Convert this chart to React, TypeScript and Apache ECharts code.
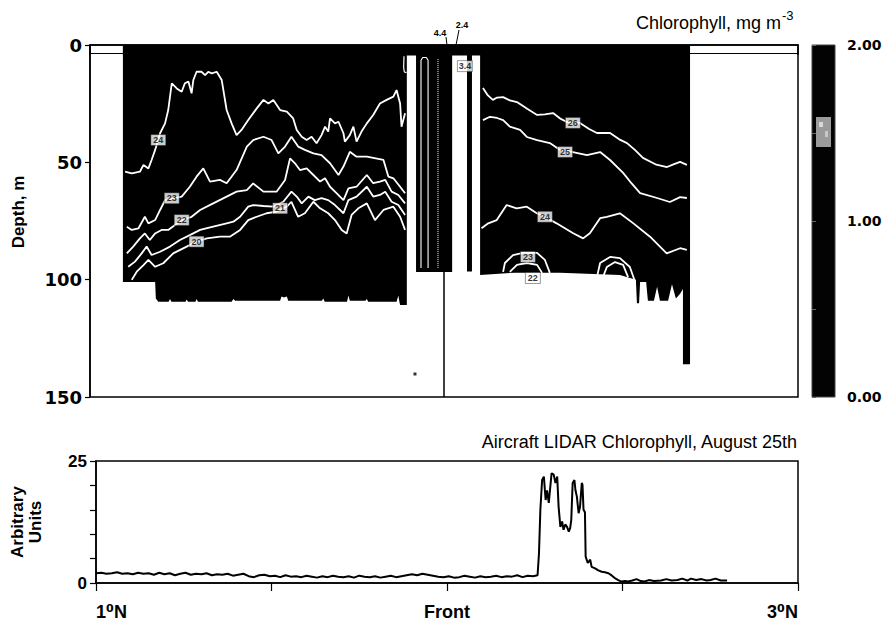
import React, { useEffect, useRef } from 'react';
import * as echarts from 'echarts';

// ---------- axes ----------
const depthRange = [0, 150];
const depthInterval = 50;
const latRange = [1, 3];
const latInterval = 0.5;
const latLabels: Record<string, string> = { '1': '1\u2070N', '2': 'Front', '3': '3\u2070N' };
const chlRange = [0, 2];
const chlInterval = 0.5;
const lidarRange = [0, 25];
const lidarInterval = 5;
const frontLat = 2.0;
const surfaceLineDepth = 3.5;

// ---------- black (saturated chlorophyll) sections: [lat, bottom depth m] ----------
const surfaceStrip = [[1.093, 4.5], [2.695, 4.5]];
const leftSection = [
  [1.093, 101], [1.184, 101], [1.186, 108], [1.193, 109.4], [1.222, 109.4], [1.226, 108.2], [1.230, 109.4],
  [1.270, 109.4], [1.273, 108.4], [1.277, 109.4], [1.298, 109.4], [1.301, 108.2], [1.305, 109.4], [1.400, 109.4],
  [1.405, 108.2], [1.410, 109], [1.537, 109], [1.541, 107.2], [1.548, 107.6], [1.556, 107.2], [1.560, 109],
  [1.655, 109], [1.659, 108.0], [1.663, 109.4], [1.726, 109.4], [1.730, 106.8], [1.734, 109], [1.778, 109],
  [1.782, 108.2], [1.786, 109.4], [1.866, 109.4], [1.871, 106.8], [1.874, 109.4], [1.876, 110.8], [1.895, 110.8],
];
const frontStrip = [[1.921, 96.7], [2.023, 96.7]];
const thinColumn = [[2.065, 96.5], [2.079, 96.5]];
const rightSection = [
  [2.102, 98], [2.20, 97], [2.328, 97], [2.497, 98], [2.542, 100], [2.545, 110], [2.551, 110], [2.554, 101],
  [2.571, 101], [2.576, 109], [2.593, 109], [2.602, 103], [2.610, 109], [2.633, 109], [2.644, 102],
  [2.655, 108], [2.667, 106], [2.675, 104], [2.675, 136], [2.695, 136],
];
const isolatedSample = [[1.918, 140.2]];

// ---------- temperature contours (white): [lat, depth m] ----------
const c24West = [[1.099,54.0],[1.118,54.7],[1.141,54.0],[1.151,51.1],[1.165,52.6],[1.174,49.0],[1.184,44.7],[1.198,37.6],[1.212,33.4],[1.221,27.7],[1.231,16.3],[1.245,18.5],[1.259,19.9],[1.268,16.3],[1.278,15.6],[1.287,20.6],[1.292,14.9],[1.301,11.4],[1.315,11.4],[1.325,12.8],[1.334,11.4],[1.344,12.1],[1.358,11.4],[1.372,14.9],[1.386,27.7],[1.400,33.4],[1.414,38.4],[1.428,36.2],[1.447,32.0],[1.471,27.0],[1.490,23.4],[1.504,24.9],[1.518,23.4],[1.537,27.7],[1.556,28.4],[1.574,31.3],[1.584,36.2],[1.598,39.1],[1.612,40.5],[1.626,39.1],[1.640,41.9],[1.654,38.4],[1.664,34.8],[1.673,36.9],[1.678,31.3],[1.692,33.4],[1.702,32.7],[1.716,37.6],[1.720,41.2],[1.734,38.4],[1.744,34.8],[1.753,41.2],[1.767,36.9],[1.782,33.4],[1.800,29.8],[1.819,24.9],[1.838,23.4],[1.857,22.0],[1.866,19.2],[1.876,24.9],[1.880,34.8],[1.890,29.1]];
const c23West = [[1.104,77.4],[1.118,78.8],[1.137,78.1],[1.155,73.2],[1.165,76.0],[1.184,74.6],[1.198,70.3],[1.212,66.1],[1.259,64.6],[1.282,60.4],[1.301,56.1],[1.320,52.6],[1.339,58.2],[1.367,57.5],[1.386,58.9],[1.414,53.3],[1.443,43.3],[1.461,40.5],[1.490,39.1],[1.513,40.5],[1.532,46.2],[1.551,43.3],[1.569,39.1],[1.588,43.3],[1.607,44.7],[1.631,46.2],[1.654,46.9],[1.678,50.4],[1.702,55.4],[1.716,51.8],[1.734,45.5],[1.753,47.6],[1.782,47.6],[1.829,49.0],[1.843,56.1],[1.857,56.8],[1.876,60.4],[1.890,63.2]];
const c22West = [[1.104,88.8],[1.122,85.9],[1.141,82.4],[1.155,80.3],[1.169,83.1],[1.184,80.3],[1.202,78.8],[1.221,78.8],[1.259,74.6],[1.287,73.2],[1.311,70.3],[1.348,67.5],[1.386,64.6],[1.414,62.5],[1.443,61.8],[1.461,59.0],[1.490,62.5],[1.527,62.5],[1.551,57.5],[1.565,48.3],[1.579,50.4],[1.593,53.3],[1.612,52.6],[1.631,55.4],[1.650,58.2],[1.664,56.8],[1.678,60.4],[1.697,63.2],[1.716,66.1],[1.730,61.1],[1.753,60.4],[1.782,55.4],[1.800,58.9],[1.819,58.2],[1.834,57.5],[1.852,62.5],[1.871,63.9],[1.890,67.5]];
const c21West = [[1.108,94.5],[1.127,92.3],[1.146,88.8],[1.160,85.9],[1.174,89.5],[1.198,88.1],[1.226,85.9],[1.254,83.1],[1.282,81.0],[1.311,78.8],[1.348,77.4],[1.386,76.0],[1.405,75.3],[1.424,73.2],[1.447,68.9],[1.461,68.2],[1.490,68.6],[1.518,68.9],[1.546,66.8],[1.569,62.5],[1.584,64.6],[1.598,67.5],[1.617,64.6],[1.635,66.1],[1.654,65.3],[1.673,66.1],[1.692,68.2],[1.716,71.7],[1.730,66.1],[1.753,64.6],[1.782,60.4],[1.800,64.6],[1.819,63.9],[1.834,62.5],[1.852,66.8],[1.871,68.2],[1.890,72.4]];
const c20West = [[1.118,100.1],[1.132,96.6],[1.151,93.8],[1.165,91.6],[1.184,94.5],[1.207,93.0],[1.235,88.8],[1.273,85.9],[1.301,83.8],[1.330,82.4],[1.367,81.7],[1.395,81.7],[1.424,78.8],[1.447,74.6],[1.471,73.2],[1.499,71.7],[1.527,71.0],[1.556,68.9],[1.569,66.8],[1.588,73.2],[1.607,71.7],[1.631,66.8],[1.650,69.6],[1.673,71.7],[1.692,74.6],[1.711,78.8],[1.725,80.3],[1.739,72.4],[1.758,69.6],[1.782,67.5],[1.805,74.6],[1.829,70.3],[1.857,68.9],[1.876,73.2],[1.890,78.8]];
const cWestEdge = [[1.887,4.8],[1.886,9.5],[1.888,11.5],[1.894,11.8]];
const cFrontA = [[1.935,95],[1.935,6.5],[1.940,5.3],[1.950,5.3],[1.955,6.5],[1.955,95]];
const cFrontB = [[1.983,6],[1.983,95]];
const c26East = [[2.110,18.3],[2.124,21.5],[2.138,23.4],[2.150,22.4],[2.167,22.2],[2.186,23.6],[2.206,24.3],[2.235,27.2],[2.263,29.8],[2.285,29.6],[2.308,29.0],[2.330,31.5],[2.347,32.8],[2.384,33.2],[2.410,35.8],[2.432,37.5],[2.469,37.5],[2.495,40.2],[2.517,41.8],[2.540,44.8],[2.562,48.1],[2.600,51.0],[2.630,52.0],[2.650,50.8],[2.667,49.8],[2.686,51.1]];
const c25East = [[2.110,32.0],[2.130,30.6],[2.150,31.1],[2.167,32.0],[2.186,34.8],[2.215,36.2],[2.234,39.2],[2.263,40.5],[2.299,41.8],[2.328,44.7],[2.364,45.6],[2.404,46.9],[2.441,45.6],[2.469,49.0],[2.506,54.5],[2.530,59.0],[2.554,63.1],[2.602,65.2],[2.638,66.9],[2.667,64.8],[2.686,65.2]];
const c24East = [[2.106,78.1],[2.125,76.0],[2.149,74.6],[2.177,68.2],[2.205,69.6],[2.234,68.9],[2.262,71.7],[2.285,73.2],[2.318,76.0],[2.365,80.2],[2.393,82.4],[2.412,80.2],[2.441,73.8],[2.460,73.2],[2.497,71.7],[2.535,76.0],[2.582,81.7],[2.629,88.8],[2.667,86.6],[2.686,87.3]];
const c23EastA = [[2.167,96.7],[2.172,92.9],[2.195,89.5],[2.223,88.6],[2.263,88.6],[2.285,91.6],[2.299,97.1]];
const c22EastA = [[2.186,96.7],[2.206,93.7],[2.234,92.9],[2.263,93.7],[2.277,97.1]];
const c23EastB = [[2.432,98.9],[2.441,92.9],[2.469,90.3],[2.497,90.8],[2.525,94.6],[2.540,101.0]];
const c22EastB = [[2.449,98.9],[2.460,94.6],[2.483,92.5],[2.506,93.7],[2.520,98.9]];
const contourLabels = [
  { name: '24', value: [1.193, 40.5] }, { name: '23', value: [1.231, 65.3] }, { name: '22', value: [1.259, 74.6] },
  { name: '21', value: [1.537, 69.6] }, { name: '20', value: [1.301, 83.8] }, { name: '26', value: [2.364, 33.2] },
  { name: '25', value: [2.342, 45.6] }, { name: '24', value: [2.285, 73.2] }, { name: '23', value: [2.237, 90.3] },
  { name: '22', value: [2.251, 99.3] }, { name: '3.4', value: [2.059, 9.0] },
];

// ---------- aircraft LIDAR chlorophyll (arbitrary units): [lat, value] ----------
const lidarSignal = [
  [1.000,2.0],[1.015,2.1],[1.030,1.9],[1.045,2.0],[1.060,2.2],[1.075,1.9],[1.090,2.0],[1.105,1.8],[1.120,2.1],[1.135,1.9],
  [1.150,2.0],[1.165,1.7],[1.180,2.1],[1.195,1.8],[1.210,2.0],[1.225,1.6],[1.240,1.9],[1.255,2.1],[1.270,1.7],[1.285,1.9],
  [1.300,1.8],[1.315,2.0],[1.330,1.6],[1.345,1.8],[1.360,1.7],[1.375,1.9],[1.390,1.5],[1.405,1.7],[1.420,1.9],[1.435,1.4],
  [1.450,1.2],[1.465,1.6],[1.480,1.7],[1.495,1.4],[1.510,1.5],[1.525,1.2],[1.540,1.6],[1.555,1.3],[1.570,1.4],[1.585,1.2],
  [1.600,1.5],[1.615,1.3],[1.630,1.1],[1.645,1.4],[1.660,1.2],[1.675,1.5],[1.690,1.3],[1.705,1.2],[1.720,1.4],[1.735,1.1],
  [1.750,1.5],[1.765,1.3],[1.780,1.2],[1.795,1.4],[1.810,1.1],[1.825,1.3],[1.840,1.5],[1.855,1.2],[1.870,1.4],[1.885,1.6],
  [1.900,1.8],[1.915,1.6],[1.930,1.9],[1.945,1.7],[1.960,1.5],[1.975,1.3],[1.990,1.2],[2.005,1.4],[2.020,1.1],[2.035,1.2],
  [2.050,1.5],[2.065,1.3],[2.080,1.1],[2.095,1.4],[2.110,1.2],[2.125,1.3],[2.140,1.5],[2.155,1.2],[2.170,1.4],[2.185,1.3],
  [2.200,1.6],[2.215,1.2],[2.230,1.5],[2.245,1.4],[2.258,1.6],
  [2.262,6.0],[2.266,15.0],[2.271,21.1],[2.276,21.8],[2.281,17.0],[2.285,19.0],[2.290,16.4],[2.294,19.5],[2.298,22.5],
  [2.304,22.2],[2.309,20.5],[2.314,21.8],[2.318,15.6],[2.323,11.5],[2.328,12.6],[2.332,10.9],[2.337,12.0],[2.342,11.5],
  [2.347,10.5],[2.351,11.3],[2.354,12.9],[2.358,20.5],[2.363,21.1],[2.366,19.0],[2.370,17.7],[2.375,14.3],[2.379,15.6],
  [2.384,20.5],[2.386,20.1],[2.389,15.0],[2.393,14.5],[2.395,5.4],[2.401,4.1],[2.408,4.8],[2.412,3.3],[2.422,3.0],
  [2.431,2.6],[2.441,2.3],[2.450,2.2],[2.460,2.0],[2.470,1.5],[2.478,1.0],[2.488,0.6],[2.497,0.3],[2.507,0.4],[2.516,0.3],
  [2.528,0.5],[2.540,0.8],[2.552,0.4],[2.563,0.3],[2.575,0.6],[2.590,0.4],[2.610,0.5],[2.625,0.8],[2.640,0.5],[2.657,0.6],
  [2.670,0.9],[2.685,0.5],[2.695,0.9],[2.710,0.6],[2.725,0.8],[2.740,0.5],[2.751,0.6],[2.765,0.9],[2.780,0.5],[2.798,0.5],
];

const SANS = '"Liberation Sans", Arial, "DejaVu Sans", sans-serif';
const WIDE = '"DejaVu Sans", sans-serif';

export default function App() {
  const ref = useRef<HTMLDivElement>(null);
  useEffect(() => {
    const chart = echarts.init(ref.current!, null, { renderer: 'svg' });

    const fill = (data: number[][], extra: any = {}) => ({
      type: 'line', xAxisIndex: 0, yAxisIndex: 0, data, symbol: 'none', silent: true, z: 2,
      lineStyle: { width: 0, color: '#000' },
      areaStyle: { color: '#000', opacity: 1, origin: 'start' },
      ...extra,
    });
    const contour = (data: number[][], type: string = 'solid', width = 1.8) => ({
      type: 'line', xAxisIndex: 0, yAxisIndex: 0, data, symbol: 'none', silent: true, z: 3,
      lineStyle: { color: '#fff', width, type },
    });

    const option: any = {
      animation: false,
      backgroundColor: '#fff',
      grid: [
        { left: 90, top: 45, width: 708, height: 352, show: true, borderColor: '#000', borderWidth: 1.5, backgroundColor: 'transparent' },
        { left: 812, top: 45, width: 23, height: 352, show: true, borderColor: '#444', borderWidth: 1, backgroundColor: '#030303' },
        { left: 90, top: 461, width: 708, height: 122, show: true, borderColor: '#000', borderWidth: 1.5, backgroundColor: 'transparent' },
      ],
      xAxis: [
        {
          gridIndex: 0, type: 'value', min: latRange[0], max: latRange[1], interval: latInterval,
          axisLine: { show: true, lineStyle: { color: '#000', width: 1.5 } },
          axisTick: { show: true, length: 10, inside: false, lineStyle: { color: '#000', width: 1.5 } },
          axisLabel: { show: false }, splitLine: { show: false },
        },
        { gridIndex: 1, type: 'value', min: 0, max: 1, show: false },
        {
          gridIndex: 2, type: 'value', min: latRange[0], max: latRange[1], interval: latInterval,
          axisLine: { show: true, lineStyle: { color: '#000', width: 1.5 } },
          axisTick: { show: true, length: 8, lineStyle: { color: '#000', width: 1.2 } },
          splitLine: { show: false },
          axisLabel: {
            formatter: (v: number) => latLabels[String(v)] ?? '',
            fontFamily: SANS, fontWeight: 'bold', fontSize: 18, color: '#000', margin: 20,
            alignMinLabel: 'left', alignMaxLabel: 'right', showMinLabel: true, showMaxLabel: true,
          },
        },
      ],
      yAxis: [
        {
          gridIndex: 0, type: 'value', inverse: true, min: depthRange[0], max: depthRange[1], interval: depthInterval,
          axisLine: { show: true, lineStyle: { color: '#000', width: 1.5 } },
          axisTick: { show: true, length: 5, lineStyle: { color: '#000', width: 1.2 } },
          axisLabel: { fontFamily: WIDE, fontWeight: 'bold', fontSize: 18, color: '#000', margin: 8 },
          splitLine: { show: false },
        },
        {
          gridIndex: 1, type: 'value', position: 'right', min: chlRange[0], max: chlRange[1], interval: chlInterval,
          axisLine: { show: false },
          axisTick: { show: true, length: 4, lineStyle: { color: '#666', width: 1 } },
          axisLabel: {
            formatter: (v: number) => (Math.abs(v % 1) < 1e-9 ? v.toFixed(2) : ''),
            fontFamily: WIDE, fontWeight: 'bold', fontSize: 14, color: '#000', margin: 12,
          },
          splitLine: { show: false },
        },
        {
          gridIndex: 2, type: 'value', min: lidarRange[0], max: lidarRange[1], interval: lidarInterval,
          axisLine: { show: true, lineStyle: { color: '#000', width: 1.5 } },
          axisTick: { show: true, length: 6, lineStyle: { color: '#000', width: 1.2 } },
          axisLabel: {
            formatter: (v: number) => (v === lidarRange[0] || v === lidarRange[1] ? String(v) : ''),
            fontFamily: SANS, fontWeight: 'bold', fontSize: 17, color: '#000', margin: 9,
          },
          splitLine: { show: false },
          name: 'Arbitrary\nUnits', nameLocation: 'middle', nameRotate: 90, nameGap: 52,
          nameTextStyle: { fontFamily: SANS, fontWeight: 'bold', fontSize: 17, color: '#000', lineHeight: 18 },
        },
      ],
      series: [
        fill(surfaceStrip, {
          markLine: {
            silent: true, symbol: ['none', 'none'], label: { show: false },
            lineStyle: { color: '#000', width: 1.2, type: 'solid' },
            data: [{ yAxis: surfaceLineDepth }],
          },
        }),
        fill(leftSection),
        fill(frontStrip, {
          markLine: {
            silent: true, symbol: ['none', 'none'], label: { show: false },
            lineStyle: { color: '#000', width: 1.5, type: 'solid' },
            data: [{ xAxis: frontLat }],
          },
        }),
        fill(thinColumn),
        fill(rightSection),
        contour(c24West), contour(c23West), contour(c22West), contour(c21West), contour(c20West),
        contour(cWestEdge, 'solid', 1.2),
        contour(cFrontA, 'solid', 1.1), contour(cFrontB, 'dotted', 1),
        contour(c26East), contour(c25East), contour(c24East),
        contour(c23EastA), contour(c22EastA), contour(c23EastB), contour(c22EastB),
        {
          type: 'scatter', xAxisIndex: 0, yAxisIndex: 0, data: contourLabels, symbol: 'rect', symbolSize: [15, 11],
          itemStyle: { color: '#fff', borderColor: '#000', borderWidth: 0.5 }, z: 5, silent: true,
          label: { show: true, position: 'inside', formatter: '{b}', color: '#000', fontSize: 9, fontWeight: 'bold', fontFamily: SANS },
        },
        {
          type: 'scatter', xAxisIndex: 0, yAxisIndex: 0, data: isolatedSample, symbol: 'rect', symbolSize: 3,
          itemStyle: { color: '#000' }, z: 5, silent: true,
        },
        {
          type: 'line', xAxisIndex: 2, yAxisIndex: 2, data: lidarSignal, symbol: 'none', silent: true,
          lineStyle: { color: '#000', width: 2 },
        },
      ],
      graphic: [
        {
          type: 'text', x: 18, y: 212, rotation: Math.PI / 2,
          style: { text: 'Depth, m', fontFamily: SANS, fontWeight: 'bold', fontSize: 17, fill: '#000', align: 'center', verticalAlign: 'middle', textAlign: 'center', textVerticalAlign: 'middle' },
        },
        {
          type: 'text', x: 781, y: 23,
          style: { text: 'Chlorophyll, mg m', fontFamily: SANS, fontSize: 18, fill: '#000', align: 'right', verticalAlign: 'middle', textAlign: 'right', textVerticalAlign: 'middle' },
        },
        {
          type: 'text', x: 782, y: 15,
          style: { text: '-3', fontFamily: SANS, fontSize: 13, fill: '#000', align: 'left', verticalAlign: 'middle', textAlign: 'left', textVerticalAlign: 'middle' },
        },
        {
          type: 'text', x: 797, y: 442,
          style: { text: 'Aircraft LIDAR Chlorophyll, August 25th', fontFamily: SANS, fontSize: 18, fill: '#000', align: 'right', verticalAlign: 'middle', textAlign: 'right', textVerticalAlign: 'middle' },
        },
        {
          type: 'text', x: 440, y: 33,
          style: { text: '4.4', fontFamily: SANS, fontWeight: 'bold', fontSize: 9, fill: '#000', align: 'center', verticalAlign: 'middle', textAlign: 'center', textVerticalAlign: 'middle' },
        },
        {
          type: 'text', x: 462, y: 25,
          style: { text: '2.4', fontFamily: SANS, fontWeight: 'bold', fontSize: 9, fill: '#000', align: 'center', verticalAlign: 'middle', textAlign: 'center', textVerticalAlign: 'middle' },
        },
        { type: 'line', shape: { x1: 446, y1: 37, x2: 447, y2: 45 }, style: { stroke: '#000', lineWidth: 1 } },
        { type: 'line', shape: { x1: 459, y1: 30, x2: 456, y2: 45 }, style: { stroke: '#000', lineWidth: 1 } },
        { type: 'rect', shape: { x: 816, y: 117, width: 15, height: 30 }, style: { fill: '#9a9a9a' } },
        { type: 'rect', shape: { x: 819, y: 122, width: 4, height: 5 }, style: { fill: '#d8d8d8' } },
        { type: 'rect', shape: { x: 825, y: 131, width: 3, height: 6 }, style: { fill: '#c8c8c8' } },
      ],
    };
    chart.setOption(option);
    return () => chart.dispose();
  }, []);
  return <div ref={ref} style={{ position: 'absolute', left: 0, top: 0, width: 887, height: 624 }} />;
}
